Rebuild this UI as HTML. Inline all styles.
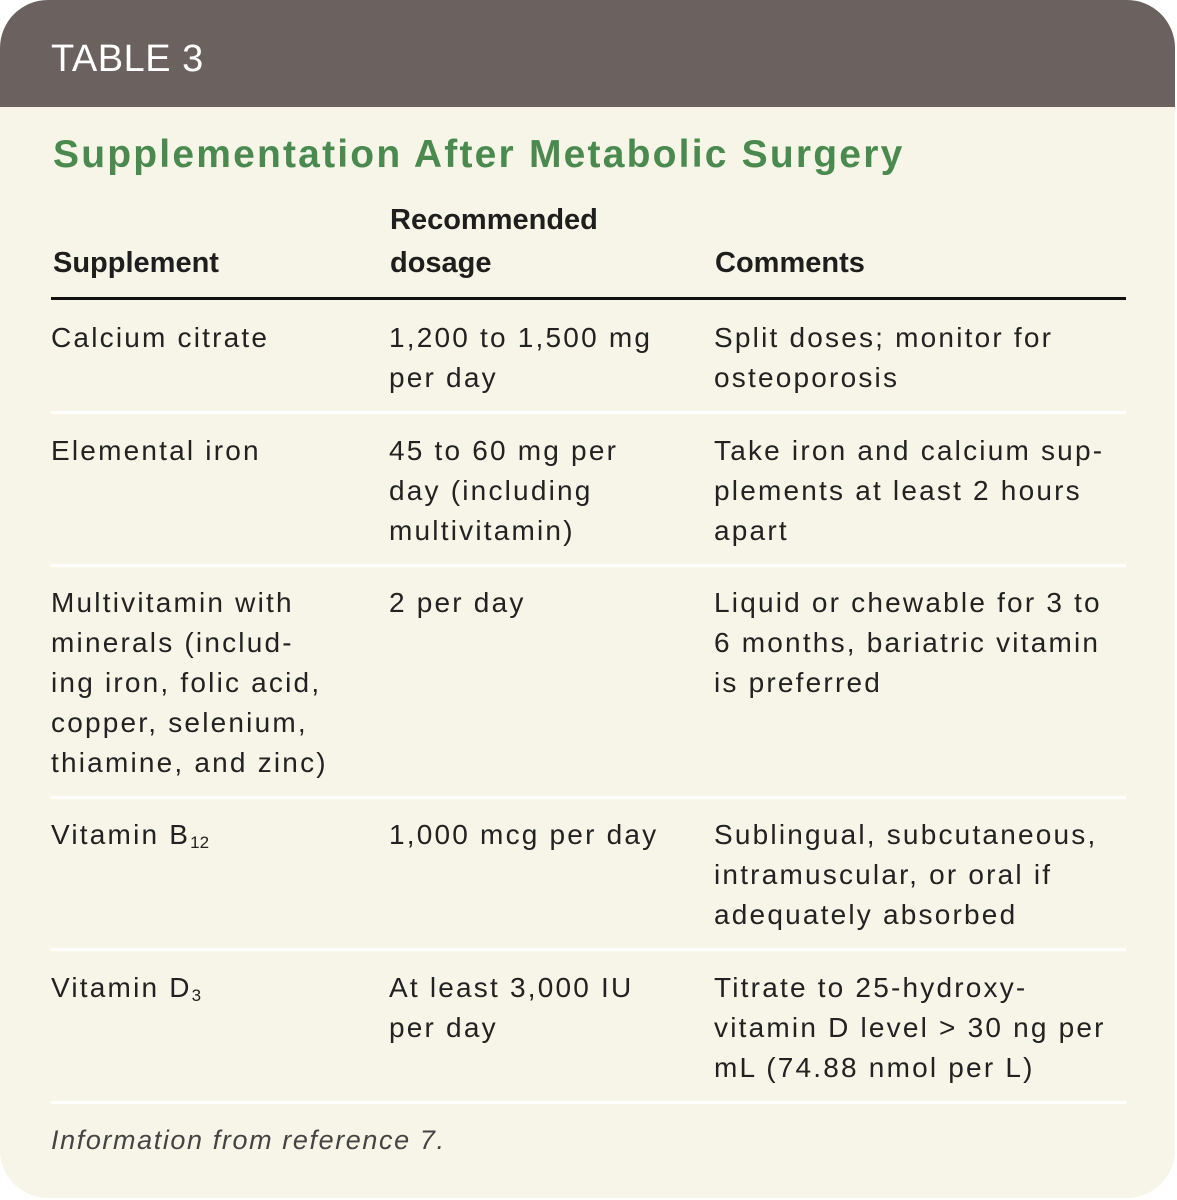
<!DOCTYPE html>
<html><head><meta charset="utf-8"><style>
body{margin:0;width:1177px;height:1200px;background:#fff;position:relative;overflow:hidden;font-family:"Liberation Sans",sans-serif}
.card{position:absolute;left:0;top:0;width:1175px;height:1198px;background:#f7f5e7;border-radius:48px;overflow:hidden}
.hd{position:absolute;left:0;top:0;width:100%;height:107px;background:#6b6260}
.t{position:absolute;white-space:nowrap;line-height:40px;height:40px;font-size:28px;color:#222;letter-spacing:2.2px}
.b{font-weight:bold;font-size:29px;color:#1e1e1e;letter-spacing:0}
.sep{position:absolute;left:51px;width:1075px;height:3px;background:#fff}
sub{font-size:17px;vertical-align:-4px;line-height:0;letter-spacing:0}
</style></head><body>
<div class="card">
<div class="hd"></div>
<div class="t" style="left:51px;top:38px;font-size:38px;color:#fff;line-height:42px;height:42px;letter-spacing:0.5px">TABLE 3</div>
<div class="t" style="left:53px;top:133px;font-size:39px;font-weight:bold;color:#4b8a4f;line-height:44px;height:44px;letter-spacing:2.2px">Supplementation After Metabolic Surgery</div>
<div class="t b" style="left:390px;top:200px">Recommended</div>
<div class="t b" style="left:53px;top:243px">Supplement</div>
<div class="t b" style="left:390px;top:243px">dosage</div>
<div class="t b" style="left:715px;top:243px">Comments</div>
<div style="position:absolute;left:51px;top:297px;width:1075px;height:3px;background:#111"></div>

<div class="t" style="left:51px;top:318px">Calcium citrate</div>
<div class="t" style="left:389px;top:318px">1,200 to 1,500 mg<br>per day</div>
<div class="t" style="left:714px;top:318px">Split doses; monitor for<br>osteoporosis</div>
<div class="sep" style="top:411px"></div>

<div class="t" style="left:51px;top:431px">Elemental iron</div>
<div class="t" style="left:389px;top:431px">45 to 60 mg per<br>day (including<br>multivitamin)</div>
<div class="t" style="left:714px;top:431px">Take iron and calcium sup-<br>plements at least 2 hours<br>apart</div>
<div class="sep" style="top:564px"></div>

<div class="t" style="left:51px;top:583px">Multivitamin with<br>minerals (includ-<br>ing iron, folic acid,<br>copper, selenium,<br>thiamine, and zinc)</div>
<div class="t" style="left:389px;top:583px">2 per day</div>
<div class="t" style="left:714px;top:583px">Liquid or chewable for 3 to<br>6 months, bariatric vitamin<br>is preferred</div>
<div class="sep" style="top:796px"></div>

<div class="t" style="left:51px;top:815px">Vitamin B<sub>12</sub></div>
<div class="t" style="left:389px;top:815px">1,000 mcg per day</div>
<div class="t" style="left:714px;top:815px">Sublingual, subcutaneous,<br>intramuscular, or oral if<br>adequately absorbed</div>
<div class="sep" style="top:948px"></div>

<div class="t" style="left:51px;top:968px">Vitamin D<sub>3</sub></div>
<div class="t" style="left:389px;top:968px">At least 3,000 IU<br>per day</div>
<div class="t" style="left:714px;top:968px">Titrate to 25-hydroxy-<br>vitamin D level &gt; 30 ng per<br>mL (74.88 nmol per L)</div>
<div class="sep" style="top:1101px"></div>

<div class="t" style="left:51px;top:1120px;font-style:italic;font-size:27px;color:#444;letter-spacing:1.6px">Information from reference 7.</div>
</div>
</body></html>
